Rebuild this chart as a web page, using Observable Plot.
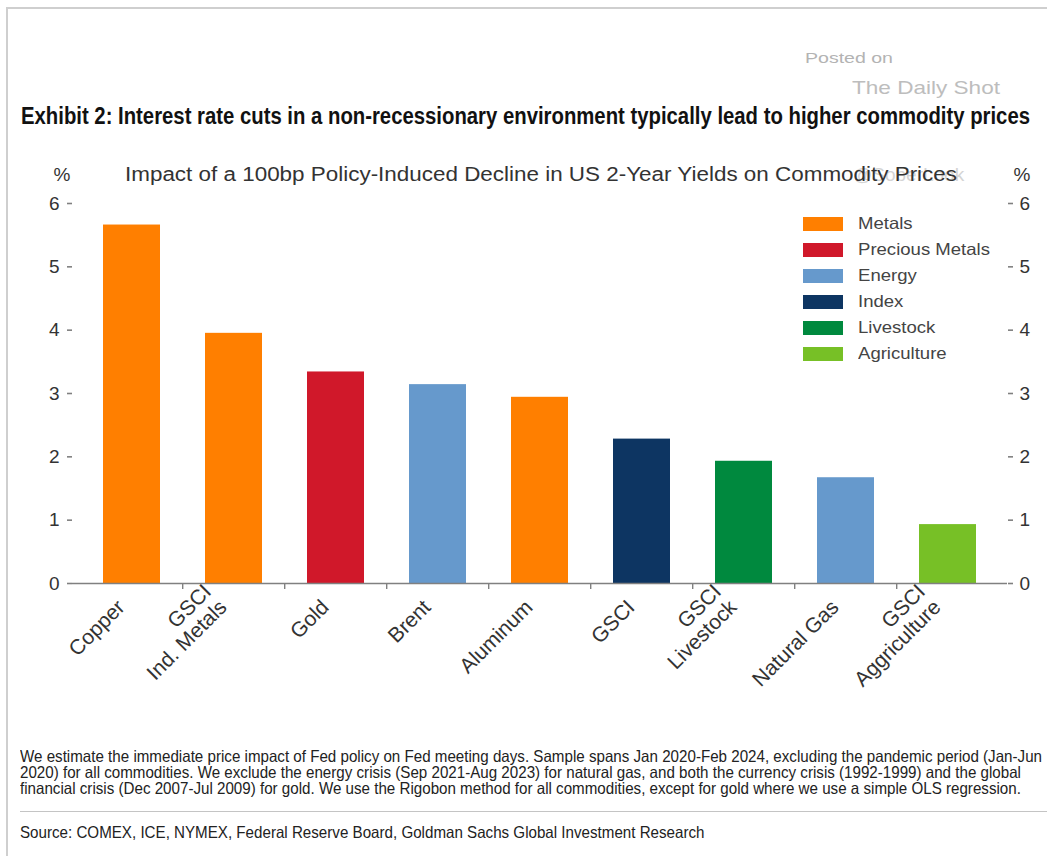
<!DOCTYPE html>
<html><head><meta charset="utf-8">
<script src="https://cdn.jsdelivr.net/npm/d3@7"></script>
<script src="https://cdn.jsdelivr.net/npm/@observablehq/plot@0.6"></script>
<style>
body{margin:0;background:#fff;}
#root{position:relative;width:1047px;height:856px;overflow:hidden;background:#fff;font-family:"Liberation Sans",Arial,sans-serif;}
.abs{position:absolute;white-space:nowrap;line-height:1;transform-origin:0 50%;}
</style></head><body><div id="root"></div>
<script>
const categories = ["Copper","GSCI Ind. Metals","Gold","Brent","Aluminum","GSCI","GSCI Livestock","Natural Gas","GSCI Agriculture"];
const tickLabels = ["Copper","GSCI\nInd. Metals","Gold","Brent","Aluminum","GSCI","GSCI\nLivestock","Natural Gas","GSCI\nAggriculture"];
const values = [5.66, 3.95, 3.34, 3.14, 2.94, 2.28, 1.93, 1.67, 0.93];
const groups = ["Metals","Metals","Precious Metals","Energy","Metals","Index","Livestock","Energy","Agriculture"];
const groupNames = ["Metals","Precious Metals","Energy","Index","Livestock","Agriculture"];
const groupColors = ["#FF7F00","#D0182A","#6699CC","#0D3562","#00893E","#77C026"];
const yTicks = [0,1,2,3,4,5,6];

const titleText = "Exhibit 2: Interest rate cuts in a non-recessionary environment typically lead to higher commodity prices";
const subtitleText = "Impact of a 100bp Policy-Induced Decline in US 2-Year Yields on Commodity Prices";
const footnoteLines = [
  "We estimate the immediate price impact of Fed policy on Fed meeting days. Sample spans Jan 2020-Feb 2024, excluding the pandemic period (Jan-Jun",
  "2020) for all commodities. We exclude the energy crisis (Sep 2021-Aug 2023) for natural gas, and both the currency crisis (1992-1999) and the global",
  "financial crisis (Dec 2007-Jul 2009) for gold. We use the Rigobon method for all commodities, except for gold where we use a simple OLS regression."
];
const sourceText = "Source: COMEX, ICE, NYMEX, Federal Reserve Board, Goldman Sachs Global Investment Research";

const data = categories.map((c, i) => ({category: c, value: values[i], group: groups[i]}));
const labelOf = Object.fromEntries(categories.map((c, i) => [c, tickLabels[i]]));

const root = document.getElementById("root");

// frame lines
const frame = document.createElement("div");
frame.style.cssText = "position:absolute;left:6px;top:7px;width:1100px;height:900px;border-left:2px solid #cfcfcf;border-top:2px solid #cfcfcf;";
root.appendChild(frame);

const W = 1047, H = 560, mL = 72, mR = 40, mT = 53, mB = 127;
const pInner = 0.44, pOuter = 0.277;
const step = (W - mL - mR) / (categories.length - pInner + 2 * pOuter);
const axisColor = "#808080";

const chart = Plot.plot({
  width: W, height: H,
  marginTop: mT, marginBottom: mB, marginLeft: mL, marginRight: mR,
  x: {domain: categories, paddingInner: pInner, paddingOuter: pOuter, align: 0.5, label: null},
  y: {domain: [0, 6], label: null},
  color: {domain: groupNames, range: groupColors},
  style: {fontFamily: "'Liberation Sans', Arial, sans-serif", color: "#333", background: "transparent", overflow: "visible"},
  marks: [
    Plot.barY(data, {x: "category", y: "value", fill: "group"}),
    Plot.ruleY([0], {stroke: axisColor, strokeWidth: 1.6}),
    Plot.axisY(yTicks, {anchor: "left", tickSize: 5, tickPadding: 8, fontSize: 19, line: true, stroke: axisColor, strokeWidth: 1.6, fill: "#333", tickFormat: d => String(d), label: null}),
    Plot.axisY(yTicks, {anchor: "right", tickSize: 5, tickPadding: 7, fontSize: 19, line: true, stroke: axisColor, strokeWidth: 1.6, fill: "#333", tickFormat: d => String(d), label: null}),
    Plot.axisX(categories.slice(1), {anchor: "bottom", tickSize: 6, dx: -step / 2, tickFormat: () => "", stroke: axisColor, strokeWidth: 1.4, label: null}),
    Plot.axisX(categories, {anchor: "bottom", tickSize: 0, tickRotate: -45, tickPadding: 25, dx: -6, lineAnchor: "bottom", textAnchor: "end", lineHeight: 1.05, tickFormat: c => labelOf[c], fontSize: 21, fill: "#333", label: null})
  ]
});
chart.style.position = "absolute";
chart.style.left = "0px";
chart.style.top = "150px";
root.appendChild(chart);

function addText(txt, opts) {
  const d = document.createElement("div");
  d.className = "abs";
  d.textContent = txt;
  d.style.fontFamily = opts.family || "'Liberation Sans', Arial, sans-serif";
  d.style.fontWeight = opts.weight || "normal";
  d.style.color = opts.color || "#222";
  d.style.fontSize = opts.size + "px";
  root.appendChild(d);
  const w = d.getBoundingClientRect().width;
  let sx = opts.scaleX || 1;
  if (opts.fitWidth) sx = opts.fitWidth / w;
  if (sx !== 1) d.style.transform = `scaleX(${sx})`;
  let left = opts.left;
  if (opts.cx !== undefined) left = opts.cx - w * sx / 2;
  d.style.left = left + "px";
  d.style.top = (opts.cy - 0.55 * opts.size) + "px";
  return {w, sx, el: d};
}

addText("Posted on", {left: 805, cy: 58, size: 15, fitWidth: 88, color: "#b3b3b3"});
addText("The Daily Shot", {left: 852, cy: 88, size: 19, fitWidth: 148, color: "#bdbdbd"});
addText(titleText, {left: 21, cy: 118, size: 23, fitWidth: 1009, weight: "bold", color: "#111"});
addText("@SoberLook", {left: 853, cy: 175, size: 19, color: "#d4d4d4"});
addText(subtitleText, {left: 125, cy: 175, size: 20, fitWidth: 832, color: "#333"});
addText("%", {cx: 62, cy: 175, size: 19, color: "#333"});
addText("%", {cx: 1022, cy: 175, size: 19, color: "#333"});

// footnotes: one horizontal compression for all lines, set by the first line
const fnSize = 16.5;
const first = addText(footnoteLines[0], {left: 20, cy: 757, size: fnSize, fitWidth: 1022, color: "#222"});
footnoteLines.slice(1).forEach((line, i) => {
  addText(line, {left: 20, cy: 773 + i * 16, size: fnSize, scaleX: first.sx, color: "#222"});
});
const rule = document.createElement("div");
rule.style.cssText = "position:absolute;left:20px;top:811px;width:1030px;height:0;border-top:1.5px solid #c4c4c4;";
root.appendChild(rule);
addText(sourceText, {left: 20, cy: 833, size: fnSize, scaleX: first.sx, color: "#222"});

// legend
const probe = addText("Precious Metals", {left: 0, cy: 400, size: 16.5});
const legSx = 132 / probe.w;
probe.el.remove();
groupNames.forEach((g, i) => {
  const sw = document.createElement("div");
  sw.style.cssText = `position:absolute;left:803px;top:${217 + i * 26}px;width:40px;height:14px;background:${groupColors[i]};`;
  root.appendChild(sw);
  addText(g, {left: 858, cy: 224 + i * 26, size: 16.5, scaleX: legSx, color: "#444"});
});
</script>
</body></html>
